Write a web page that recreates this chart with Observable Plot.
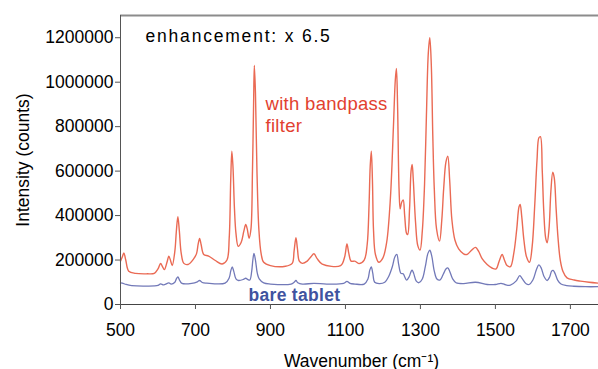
<!DOCTYPE html>
<html>
<head>
<meta charset="utf-8">
<script src="https://cdn.jsdelivr.net/npm/d3@7"></script>
<script src="https://cdn.jsdelivr.net/npm/@observablehq/plot@0.6"></script>
<style>
  html, body { margin: 0; padding: 0; background: #fff; }
</style>
</head>
<body>
<div id="chart"></div>
<script>
// Wavenumbers (cm^-1) and intensities
const filterWavenumber = [500,505,509,514,522,540,571,590,600,607,612,617,624,629,634,638,645,649,653,657,662,669,680,695,703,707,711,715,722,735,753,771,784,790,794,797,800,804,808,814,822,829,834,838,843,848,852,855,857,860,864,869,875,882,900,940,958,963,968,972,977,985,998,1008,1016,1025,1038,1087,1098,1104,1109,1115,1125,1136,1150,1158,1163,1166,1169,1172,1175,1180,1189,1200,1210,1220,1228,1233,1236,1239,1243,1246,1250,1254,1258,1263,1266,1271,1275,1278,1281,1287,1293,1299,1305,1311,1316,1321,1325,1329,1333,1337,1343,1351,1357,1362,1368,1373,1378,1384,1392,1402,1415,1424,1437,1447,1455,1465,1478,1492,1502,1510,1518,1524,1531,1540,1549,1557,1563,1566,1570,1576,1583,1591,1598,1605,1611,1616,1620,1625,1629,1634,1638,1643,1648,1653,1657,1662,1667,1673,1680,1691,1710,1727,1750,1775];
const filterIntensity = [195000,215000,232000,200000,150000,140000,138000,140000,160000,185000,170000,157000,190000,217000,195000,175000,240000,330000,395000,330000,230000,185000,180000,205000,230000,270000,297000,270000,225000,218000,198000,182000,200000,300000,560000,690000,620000,430000,320000,262000,280000,330000,360000,340000,298000,340000,600000,900000,1075000,950000,600000,340000,230000,190000,175000,172000,185000,240000,300000,250000,195000,185000,195000,215000,228000,205000,182000,175000,215000,272000,230000,195000,195000,184000,200000,270000,450000,620000,690000,560000,330000,225000,190000,210000,280000,480000,800000,1010000,1062000,900000,520000,430000,460000,470000,400000,320000,315000,430000,600000,630000,560000,370000,265000,245000,330000,540000,850000,1130000,1200000,1080000,760000,520000,340000,285000,380000,520000,640000,667000,560000,380000,290000,250000,228000,225000,245000,257000,240000,205000,180000,163000,160000,195000,225000,200000,175000,170000,230000,340000,440000,450000,400000,290000,215000,190000,260000,450000,650000,750000,755000,600000,420000,300000,278000,340000,510000,595000,570000,430000,300000,200000,150000,120000,110000,105000,100000,96000];

const bareWavenumber = [500,505,515,530,570,600,607,615,629,635,645,649,653,658,664,690,705,711,718,730,779,790,794,798,802,808,815,828,834,840,845,850,853,856,860,865,870,882,900,955,963,968,973,985,1016,1050,1095,1104,1112,1125,1150,1160,1165,1169,1173,1178,1190,1205,1215,1225,1232,1237,1242,1248,1254,1258,1263,1270,1275,1278,1282,1289,1296,1305,1313,1320,1325,1330,1337,1344,1352,1362,1368,1373,1378,1386,1395,1415,1447,1478,1500,1515,1525,1540,1555,1565,1572,1582,1590,1600,1610,1616,1622,1630,1638,1645,1650,1654,1659,1666,1675,1690,1709,1740,1775];
const bareIntensity = [97000,96000,90000,85000,83000,86000,93000,88000,97000,92000,100000,115000,124000,108000,95000,95000,102000,108000,99000,96000,96000,120000,150000,169000,150000,115000,108000,113000,118000,112000,110000,150000,200000,230000,200000,140000,115000,97000,92000,92000,100000,108000,98000,92000,95000,92000,95000,104000,95000,92000,92000,115000,155000,169000,140000,100000,94000,100000,125000,170000,215000,225000,180000,140000,138000,125000,110000,125000,148000,154000,140000,105000,98000,115000,170000,230000,244000,220000,150000,115000,110000,140000,160000,165000,150000,115000,98000,94000,100000,90000,90000,95000,90000,87000,105000,130000,115000,93000,90000,110000,160000,178000,165000,125000,108000,125000,150000,153000,140000,110000,92000,85000,82000,80000,80000];

const xTicks = [500, 700, 900, 1100, 1300, 1500, 1700];
const yTicks = [0, 200000, 400000, 600000, 800000, 1000000, 1200000];

const filterData = filterWavenumber.map((w, i) => ({w, v: filterIntensity[i]}));
const bareData = bareWavenumber.map((w, i) => ({w, v: bareIntensity[i]}));

const font = "'Liberation Sans', Arial, Helvetica, sans-serif";

const chart = Plot.plot({
  width: 598,
  height: 369,
  marginLeft: 120,
  marginRight: 0,
  marginTop: 15,
  marginBottom: 65,
  style: {fontFamily: font, fontSize: "17.5px", color: "black", background: "white"},
  x: {domain: [500, 1775]},
  y: {domain: [0, 1300000]},
  marks: [
    Plot.line(filterData, {x: "w", y: "v", stroke: "#ea6a54", strokeWidth: 1.4, curve: "catmull-rom"}),
    Plot.line(bareData, {x: "w", y: "v", stroke: "#7279b8", strokeWidth: 1.3, curve: "catmull-rom"}),
    Plot.ruleY([1300000], {stroke: "#8c8c8c", strokeWidth: 2}),
    Plot.ruleX([500], {stroke: "#555", strokeWidth: 1}),
    Plot.ruleY([0], {stroke: "#444", strokeWidth: 1.2}),
    Plot.axisY({ticks: yTicks, tickFormat: d => String(d), tickSize: 5, tickPadding: 2, stroke: "#555", fill: "black", label: null}),
    Plot.axisX({ticks: xTicks, tickFormat: d => String(d), tickSize: 5, tickPadding: 14, stroke: "#555", fill: "black", label: null}),
    Plot.text(["enhancement: x 6.5"], {frameAnchor: "top-left", dx: 25, dy: 26, lineAnchor: "bottom", textAnchor: "start", fontSize: 17.5, fill: "black"}),
    Plot.text(["with bandpass\nfilter"], {frameAnchor: "top-left", dx: 145, dy: 116, lineAnchor: "bottom", textAnchor: "start", fontSize: 18.5, lineHeight: 1.14, fill: "#e2412f"}),
    Plot.text(["bare tablet"], {frameAnchor: "top-left", dx: 128, dy: 285, lineAnchor: "bottom", textAnchor: "start", fontSize: 17.5, fontWeight: "bold", fill: "#3f53a0"}),
    Plot.text(["Intensity (counts)"], {frameAnchor: "left", dx: -92, rotate: -90, lineAnchor: "bottom", textAnchor: "middle", fontSize: 17.5, fill: "black"}),
    Plot.text(["Wavenumber (cm\u207B\u00B9)"], {frameAnchor: "bottom", dx: 2, dy: 62, lineAnchor: "bottom", textAnchor: "middle", fontSize: 17.5, fill: "black"})
  ]
});

// typographic touches: letter spacing of the annotation, slightly heavier glyphs
d3.select(chart).selectAll("text").each(function() {
  const t = this.textContent;
  const sel = d3.select(this);
  if (t.startsWith("enhancement")) sel.style("letter-spacing", "1.8px");
  if (t.startsWith("with") || t.startsWith("filter")) sel.style("letter-spacing", "0.3px");
  if (t.startsWith("bare")) sel.style("letter-spacing", "0.3px");
  const fill = getComputedStyle(this).fill;
  sel.style("stroke", fill).style("stroke-width", "0.3px").style("paint-order", "stroke");
});

document.getElementById("chart").appendChild(chart);
</script>
</body>
</html>
